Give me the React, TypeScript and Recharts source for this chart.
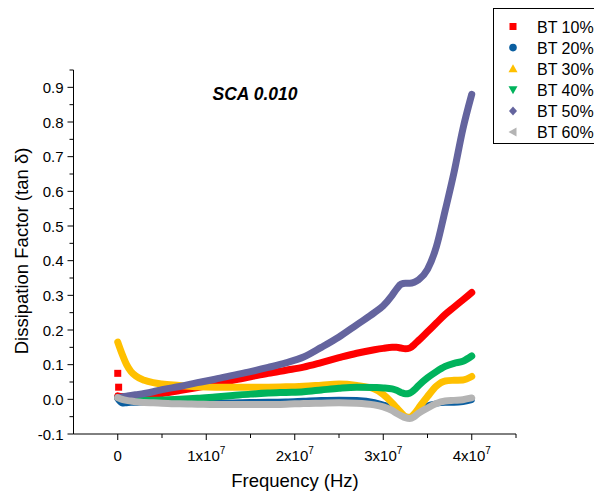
import React from 'react';
import { ComposedChart, Line, XAxis, YAxis, Customized } from 'recharts';

// Sampling frequencies in MHz (shared by all series)
const freqMHz = [0, 0.5, 1, 1.5, 2, 3, 4, 5, 7, 9, 11, 13, 15, 17, 19, 21, 23, 25, 27, 29, 30, 31, 31.5, 32, 32.5, 33, 33.5, 34, 35, 36, 37, 38, 39, 40];

// Dissipation factor (tan δ) for each BT loading
const bt10 = [0.01, 0.008, 0.008, 0.008, 0.009, 0.011, 0.014, 0.017, 0.025, 0.034, 0.044, 0.055, 0.065, 0.075, 0.084, 0.093, 0.106, 0.12, 0.133, 0.143, 0.147, 0.15, 0.15, 0.148, 0.146, 0.148, 0.158, 0.17, 0.195, 0.22, 0.245, 0.266, 0.287, 0.308];
const bt20 = [0.0, -0.012, -0.011, -0.01, -0.01, -0.009, -0.009, -0.009, -0.01, -0.01, -0.01, -0.009, -0.008, -0.007, -0.006, -0.004, -0.002, -0.001, -0.002, -0.008, -0.015, -0.025, -0.033, -0.042, -0.05, -0.052, -0.045, -0.032, -0.018, -0.012, -0.01, -0.01, -0.008, -0.002];
const bt30 = [0.165, 0.13, 0.1, 0.08, 0.068, 0.055, 0.048, 0.044, 0.04, 0.036, 0.035, 0.035, 0.035, 0.035, 0.036, 0.038, 0.041, 0.044, 0.04, 0.03, 0.014, -0.01, -0.024, -0.038, -0.05, -0.052, -0.042, -0.025, 0.008, 0.038, 0.053, 0.055, 0.056, 0.066];
const bt40 = [0.005, 0.002, 0.0, -0.001, -0.002, -0.003, -0.003, -0.002, 0.0, 0.003, 0.007, 0.011, 0.015, 0.018, 0.02, 0.022, 0.027, 0.032, 0.035, 0.034, 0.033, 0.03, 0.026, 0.02, 0.016, 0.018, 0.027, 0.04, 0.062, 0.08, 0.095, 0.104, 0.11, 0.125];
const bt50 = [0.005, 0.007, 0.009, 0.011, 0.013, 0.017, 0.022, 0.028, 0.037, 0.048, 0.058, 0.069, 0.08, 0.092, 0.105, 0.122, 0.15, 0.18, 0.215, 0.25, 0.27, 0.3, 0.318, 0.332, 0.335, 0.335, 0.338, 0.345, 0.375, 0.44, 0.545, 0.655, 0.78, 0.88];
const bt60 = [0.005, 0.0, -0.003, -0.005, -0.007, -0.009, -0.01, -0.011, -0.013, -0.014, -0.015, -0.015, -0.015, -0.015, -0.014, -0.012, -0.011, -0.01, -0.011, -0.016, -0.022, -0.032, -0.04, -0.047, -0.053, -0.055, -0.05, -0.04, -0.025, -0.012, -0.005, -0.003, -0.001, 0.004];

// Scattered low-frequency readings of BT 10%
const bt10LowFreqMHz = [0, 0.1];
const bt10LowFreq = [0.075, 0.035];

const seriesNames = ['BT 10%', 'BT 20%', 'BT 30%', 'BT 40%', 'BT 50%', 'BT 60%'];
const seriesColors = ['#FF0000', '#0A5EA0', '#FFC000', '#00B35C', '#64649E', '#B4B4B4'];
const seriesValues = [bt10, bt20, bt30, bt40, bt50, bt60];

const xTicks = [0, 5e6, 1e7, 1.5e7, 2e7, 2.5e7, 3e7, 3.5e7, 4e7, 4.5e7];
const yTicks = [-0.1, -0.05, 0, 0.05, 0.1, 0.15, 0.2, 0.25, 0.3, 0.35, 0.4, 0.45, 0.5, 0.55, 0.6, 0.65, 0.7, 0.75, 0.8, 0.85, 0.9, 0.95];

const FONT = '"Liberation Sans", Arial, Helvetica, sans-serif';

const toPoints = (mhz: number[], vals: number[]) =>
  mhz.map((m, i) => ({ f: m * 1e6, v: vals[i] }));

const seriesData = seriesValues.map((vals) => toPoints(freqMHz, vals));
const bt10LowData = toPoints(bt10LowFreqMHz, bt10LowFreq);

// Marker shapes used in the legend (and for the scattered points)
const Marker = ({ kind, cx, cy, color }: { kind: number; cx: number; cy: number; color: string }) => {
  const s = 3.5;
  switch (kind) {
    case 0:
      return <rect x={cx - s} y={cy - s} width={2 * s} height={2 * s} fill={color} />;
    case 1:
      return <circle cx={cx} cy={cy} r={s + 0.3} fill={color} />;
    case 2:
      return <polygon points={`${cx},${cy - s - 1} ${cx - s - 1},${cy + s} ${cx + s + 1},${cy + s}`} fill={color} />;
    case 3:
      return <polygon points={`${cx - s - 1},${cy - s} ${cx + s + 1},${cy - s} ${cx},${cy + s + 1}`} fill={color} />;
    case 4:
      return <polygon points={`${cx},${cy - s - 1} ${cx + s + 0.5},${cy} ${cx},${cy + s + 1} ${cx - s - 0.5},${cy}`} fill={color} />;
    default:
      return <polygon points={`${cx - s - 1},${cy} ${cx + s},${cy - s - 1} ${cx + s},${cy + s + 1}`} fill={color} />;
  }
};

const XTick = (props: any) => {
  const { x, y, payload } = props;
  const v = payload.value as number;
  const n = Math.round(v / 1e7);
  const major = Math.abs(v - n * 1e7) < 1;
  return (
    <g>
      <line x1={x} y1={y} x2={x} y2={y + (major ? 6 : 4)} stroke="#000" strokeWidth={1} />
      {major && (
        <text x={x} y={y + 27} textAnchor="middle" fontFamily={FONT} fontSize={15} fill="#000">
          {n === 0 ? '0' : (
            <>
              {`${n}x10`}
              <tspan dy={-7} fontSize={10}>7</tspan>
            </>
          )}
        </text>
      )}
    </g>
  );
};

const YTick = (props: any) => {
  const { x, y, payload } = props;
  const v = payload.value as number;
  const hundredths = Math.round(v * 100);
  const major = hundredths % 10 === 0;
  return (
    <g>
      <line x1={x - (major ? 6 : 4)} y1={y} x2={x} y2={y} stroke="#000" strokeWidth={1} />
      {major && (
        <text x={x - 10} y={y + 5.5} textAnchor="end" fontFamily={FONT} fontSize={15} fill="#000">
          {(hundredths / 100).toFixed(1)}
        </text>
      )}
    </g>
  );
};

const SquareDot = (props: any) => {
  const { cx, cy } = props;
  if (cx == null || cy == null) return <g />;
  return <Marker kind={0} cx={cx} cy={cy} color={seriesColors[0]} />;
};

// Title, axis titles and the boxed legend
const Annotations = () => (
  <g>
    <text x={255} y={100} textAnchor="middle" fontFamily={FONT} fontSize={17.5} fontWeight="bold" fontStyle="italic" fill="#000">
      SCA 0.010
    </text>
    <text
      x={0}
      y={0}
      transform="translate(28, 251) rotate(-90)"
      textAnchor="middle"
      fontFamily={FONT}
      fontSize={18.5}
      fill="#000"
    >
      Dissipation Factor (tan δ)
    </text>
    <text x={295} y={487} textAnchor="middle" fontFamily={FONT} fontSize={18.5} fill="#000">
      Frequency (Hz)
    </text>
    <rect x={493.5} y={8.5} width={120} height={135} fill="#fff" stroke="#000" strokeWidth={1} />
    {seriesNames.map((name, i) => {
      const cy = 26.5 + i * 21.1;
      return (
        <g key={name}>
          <Marker kind={i} cx={513} cy={cy} color={seriesColors[i]} />
          <text x={537} y={cy + 6} fontFamily={FONT} fontSize={16} fill="#000">
            {name}
          </text>
        </g>
      );
    })}
  </g>
);

export default function App() {
  return (
    <div style={{ position: 'absolute', left: 0, top: 0, width: 594, height: 492, background: '#fff' }}>
      <ComposedChart width={594} height={492} margin={{ top: 70, right: 78, bottom: 0, left: 0 }}>
        <XAxis
          type="number"
          dataKey="f"
          domain={[-5e6, 4.5e7]}
          ticks={xTicks}
          allowDataOverflow
          height={58}
          tickSize={0}
          tickMargin={0}
          tickLine={false}
          axisLine={{ stroke: '#000', strokeWidth: 1 }}
          tick={<XTick />}
          interval={0}
        />
        <YAxis
          type="number"
          dataKey="v"
          domain={[-0.1, 0.95]}
          ticks={yTicks}
          allowDataOverflow
          width={73.5}
          tickSize={0}
          tickMargin={0}
          tickLine={false}
          axisLine={{ stroke: '#000', strokeWidth: 1 }}
          tick={<YTick />}
          interval={0}
        />
        {seriesData.map((d, i) => (
          <Line
            key={seriesNames[i]}
            data={d}
            dataKey="v"
            type="monotone"
            stroke={seriesColors[i]}
            strokeWidth={i === 1 ? 6 : 7}
            strokeLinecap="round"
            strokeLinejoin="round"
            dot={false}
            activeDot={false}
            isAnimationActive={false}
          />
        ))}
        <Line
          data={bt10LowData}
          dataKey="v"
          stroke="none"
          dot={<SquareDot />}
          activeDot={false}
          isAnimationActive={false}
        />
        <Customized component={<Annotations />} />
      </ComposedChart>
    </div>
  );
}
